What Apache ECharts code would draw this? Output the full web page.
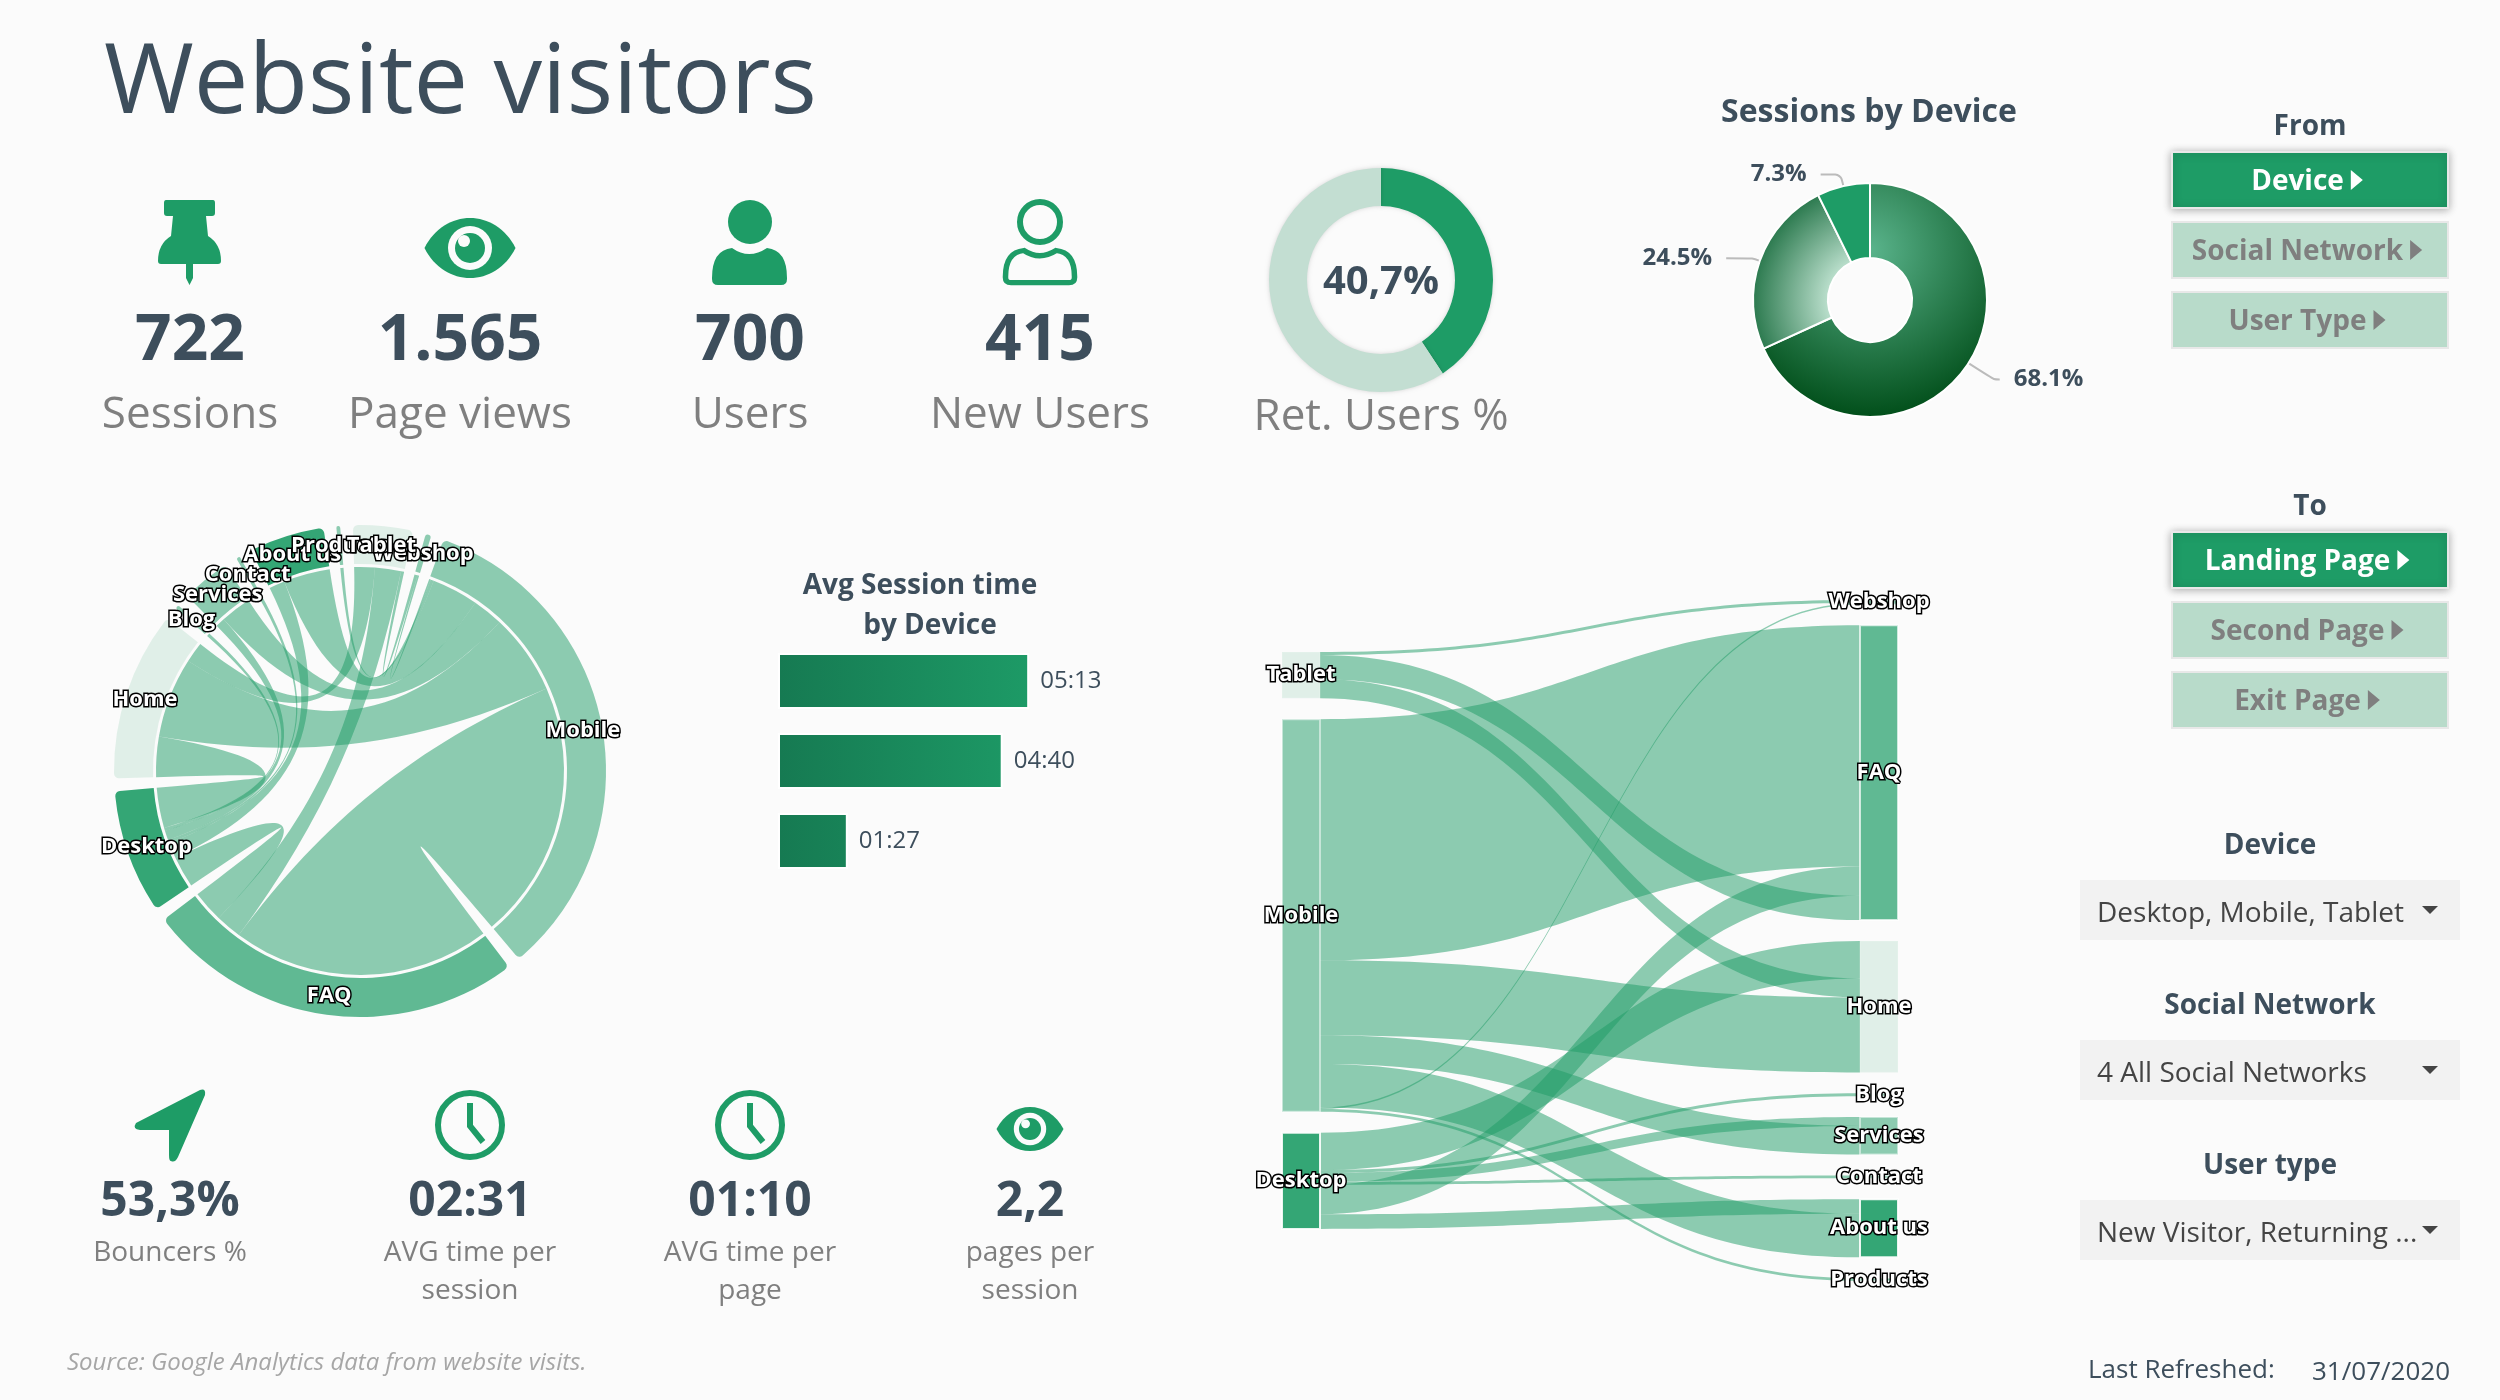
<!DOCTYPE html>
<html>
<head>
<meta charset="utf-8">
<title>Website visitors</title>
<script src="https://cdn.jsdelivr.net/npm/echarts@6/dist/echarts.min.js"></script>
<style>
html,body{margin:0;padding:0;background:#fbfbfb;}
#main{width:2500px;height:1400px;}
</style>
</head>
<body>
<div id="main"></div>
<script type="text/javascript">
// values
var topKpiValues = ['722', '1.565', '700', '415'];
var topKpiLabels = ['Sessions', 'Page views', 'Users', 'New Users'];
var bottomKpiValues = ['53,3%', '02:31', '01:10', '2,2'];
var bottomKpiLabels = [['Bouncers %'], ['AVG time per', 'session'], ['AVG time per', 'page'], ['pages per', 'session']];
var retUsersPct = [40.7, 59.3];
var retUsersText = '40,7%';
var deviceNames = ['Mobile', 'Desktop', 'Tablet'];
var devicePct = [68.1, 24.5, 7.3];
var avgSessionSeconds = [313, 280, 87];
var fromButtons = ['Device', 'Social Network', 'User Type'];
var toButtons = ['Landing Page', 'Second Page', 'Exit Page'];
var filterNames = ['Device', 'Social Network', 'User type'];
var filterValues = ['Desktop, Mobile, Tablet', '4 All Social Networks', 'New Visitor, Returning ...'];

var sankeyNames = ['Tablet', 'Mobile', 'Desktop', 'Webshop', 'FAQ', 'Home', 'Blog', 'Services', 'Contact', 'About us', 'Products'];
var chordNames = ['Webshop', 'Mobile', 'FAQ', 'Desktop', 'Home', 'Blog', 'Services', 'Contact', 'About us', 'Products', 'Tablet'];
// the order of this list is the order the ribbons stack in on each node
var flowSource = ['Tablet', 'Mobile', 'Desktop', 'Desktop', 'Desktop', 'Desktop', 'Desktop', 'Tablet', 'Tablet', 'Mobile', 'Mobile', 'Desktop', 'Mobile', 'Mobile', 'Mobile'];
var flowTarget = ['Webshop', 'FAQ', 'Home', 'Blog', 'Services', 'Contact', 'FAQ', 'FAQ', 'Home', 'Home', 'Services', 'About us', 'About us', 'Webshop', 'Products'];
var flowValue = [4, 328, 51, 4, 12, 4, 40, 33, 26, 102, 39, 20, 59, 2, 4];

var FONT = '"Open Sans","Noto Sans",sans-serif';
var DARK = '#3d4e5c', GREY = '#7f7f7f', GREEN = '#1e9c66';
var nodeOpacity = {Tablet: 0.12, Home: 0.12, Mobile: 0.5, Services: 0.5, FAQ: 0.7, Desktop: 0.9, 'About us': 0.9, Webshop: 0.5, Blog: 0.5, Contact: 0.5, Products: 0.5};

// icon outlines, drawn in pixel units around their own origin
echarts.graphic.registerShape('iconPin', echarts.graphic.extendPath('M8 0H55Q57 0 57 3V13Q57 16 54 16H48L50 36Q63 44 63 61Q63 64 60 64H35V78L31.5 85L28 78V64H3Q0 64 0 61Q0 44 13 36L15 16H9Q6 16 6 13V3Q6 0 8 0Z'));
echarts.graphic.registerShape('iconEye', echarts.graphic.extendPath('M0 30C20 -10 71 -10 91 30C71 70 20 70 0 30Z'));
echarts.graphic.registerShape('iconBody', echarts.graphic.extendPath('M20 0Q37 12 55 0Q75 2 75 30V31Q75 37 69 37H6Q0 37 0 31V30Q0 2 20 0Z'));
echarts.graphic.registerShape('iconArrow', echarts.graphic.extendPath('M66 1Q72 -1 71 6L44 68Q41 74 37 72Q35 72 35 66V41H6Q-2 40 2 34Z'));

var flowLinks = flowValue.map(function (v, i) {
    return {source: flowSource[i], target: flowTarget[i], value: v};
});

function nodeData(names) {
    return names.map(function (n) {
        return {name: n, itemStyle: {color: GREEN, opacity: nodeOpacity[n]}};
    });
}

function mmss(sec) {
    var m = Math.floor(sec / 60), s = sec % 60;
    return (m < 10 ? '0' : '') + m + ':' + (s < 10 ? '0' : '') + s;
}

function txt(x, y, text, size, color, weight, align, extra) {
    var style = {
        text: text, fill: color, fontSize: size, fontWeight: weight || 'normal', fontFamily: FONT,
        align: align || 'center', verticalAlign: 'middle', textAlign: align || 'center', textVerticalAlign: 'middle'
    };
    if (extra) { for (var k in extra) style[k] = extra[k]; }
    return {type: 'text', x: x, y: y, silent: true, style: style};
}

function icon(type, x, y, sx, sy, style) {
    return {type: type, x: x, y: y, scaleX: sx, scaleY: sy, silent: true, shape: {}, style: style || {fill: GREEN}};
}

function eye(cx, cy, w) {
    var k = w / 91;
    return [
        icon('iconEye', cx - 45.5 * k, cy - 30 * k, k, k),
        {type: 'circle', silent: true, shape: {cx: cx, cy: cy, r: 22 * k}, style: {fill: '#fbfbfb'}},
        {type: 'circle', silent: true, shape: {cx: cx, cy: cy, r: 15 * k}, style: {fill: GREEN}},
        {type: 'circle', silent: true, shape: {cx: cx - 6 * k, cy: cy - 7 * k, r: 6 * k}, style: {fill: '#fbfbfb'}}
    ];
}

function clock(cx, cy) {
    return [
        {type: 'circle', silent: true, shape: {cx: cx, cy: cy, r: 32}, style: {fill: 'none', stroke: GREEN, lineWidth: 6}},
        {type: 'polyline', silent: true, shape: {points: [[cx, cy - 22], [cx, cy + 1], [cx + 13, cy + 17]]}, style: {fill: 'none', stroke: GREEN, lineWidth: 6}}
    ];
}

var measure = document.createElement('canvas').getContext('2d');

function button(x, y, w, h, text, active) {
    var color = active ? '#ffffff' : '#7f7f7f';
    measure.font = 'bold 28px ' + FONT;
    var tw = measure.measureText(text).width;
    var left = x + (w - tw - 19) / 2 - 3, cy = y + h / 2;
    return [
        {type: 'rect', silent: true, shape: {x: x, y: y, width: w, height: h}, style: {
            fill: active ? GREEN : '#b8dbca', stroke: '#e8e8e8', lineWidth: 2,
            shadowBlur: active ? 8 : 0, shadowColor: 'rgba(0,0,0,0.3)', shadowOffsetY: active ? 1 : 0
        }},
        txt(left, cy + 2, text, 28, color, 'bold', 'left'),
        {type: 'polygon', silent: true, shape: {points: [[left + tw + 7, cy - 10], [left + tw + 19, cy], [left + tw + 7, cy + 10]]}, style: {fill: color}}
    ];
}

var elems = [];
elems.push(txt(104, 85, 'Website visitors', 97.3, DARK, 'normal', 'left'));

// top row of figures
var topX = [190, 460, 750, 1040];
topKpiValues.forEach(function (v, i) {
    elems.push(txt(topX[i], 342, v, 64, DARK, 'bold'));
    elems.push(txt(topX[i], 415, topKpiLabels[i], 44, GREY));
});
elems.push(icon('iconPin', 158, 200, 1, 1));
elems = elems.concat(eye(470, 248, 91));
elems.push({type: 'circle', silent: true, shape: {cx: 750, cy: 222, r: 22}, style: {fill: GREEN}});
elems.push(icon('iconBody', 712, 248, 1, 1));
elems.push({type: 'circle', silent: true, shape: {cx: 1040, cy: 222, r: 20}, style: {fill: 'none', stroke: GREEN, lineWidth: 6}});
elems.push(icon('iconBody', 1005.5, 250.5, 0.92, 0.87, {fill: 'none', stroke: GREEN, lineWidth: 6}));

// retention donut text
elems.push(txt(1381, 283, retUsersText, 40, DARK, 'bold'));
elems.push(txt(1381, 417, 'Ret. Users %', 44, GREY));
elems.push(txt(1869, 113, 'Sessions by Device', 32, DARK, 'bold'));
elems.push(txt(920, 586, 'Avg Session time', 28, DARK, 'bold'));
elems.push(txt(930, 626, 'by Device', 28, DARK, 'bold'));

// bottom row of figures
var botX = [170, 470, 750, 1030];
bottomKpiValues.forEach(function (v, i) {
    elems.push(txt(botX[i], 1202, v, 48, DARK, 'bold'));
    bottomKpiLabels[i].forEach(function (line, j) {
        elems.push(txt(botX[i], 1253 + j * 38, line, 28, GREY));
    });
});
elems.push(icon('iconArrow', 134, 1089, 1, 1));
elems = elems.concat(clock(470, 1125)).concat(clock(750, 1125)).concat(eye(1030, 1129, 67));

// buttons
elems.push(txt(2310, 127, 'From', 28, DARK, 'bold'));
elems.push(txt(2310, 507, 'To', 28, DARK, 'bold'));
fromButtons.forEach(function (b, i) {
    elems = elems.concat(button(2172, 152 + i * 70, 276, 56, b, i === 0));
});
toButtons.forEach(function (b, i) {
    elems = elems.concat(button(2172, 532 + i * 70, 276, 56, b, i === 0));
});

// filter boxes
filterNames.forEach(function (n, i) {
    var y = 880 + i * 160;
    elems.push(txt(2270, y - 34, n, 28, DARK, 'bold'));
    elems.push({type: 'rect', silent: true, shape: {x: 2080, y: y, width: 380, height: 60}, style: {fill: '#f2f2f2'}});
    elems.push(txt(2097, y + 34, filterValues[i], 28, '#444444', 'normal', 'left'));
    elems.push({type: 'polygon', silent: true, shape: {points: [[2422, y + 26], [2438, y + 26], [2430, y + 34]]}, style: {fill: '#444444'}});
});

elems.push(txt(67, 1363, 'Source: Google Analytics data from website visits.', 24, '#a6a6a6', 'normal', 'left', {fontStyle: 'italic'}));
elems.push(txt(2088, 1371, 'Last Refreshed:', 26, DARK, 'normal', 'left'));
elems.push(txt(2312, 1373, '31/07/2020', 26, DARK, 'normal', 'left'));

// ECharts sorts ribbons by node position; stack them in flow list order and centre the columns instead
echarts.registerLayout(echarts.PRIORITY.VISUAL.LAYOUT + 1, function (ecModel) {
    ecModel.eachSeriesByType('sankey', function (series) {
        var graph = series.getGraph(), columns = {};
        graph.nodes.forEach(function (node) {
            var l = node.getLayout();
            (columns[l.x] = columns[l.x] || []).push(node);
        });
        var rect = series.layoutInfo;
        Object.keys(columns).forEach(function (key) {
            var col = columns[key];
            var first = col[0].getLayout(), last = col[col.length - 1].getLayout();
            var shift = (rect.height - (last.y + last.dy - first.y)) / 2 - first.y;
            col.forEach(function (node) {
                node.setLayout({y: node.getLayout().y + shift}, true);
            });
        });
        var outUsed = {}, inUsed = {};
        graph.edges.forEach(function (edge) {
            var a = edge.node1.id, b = edge.node2.id, dy = edge.getLayout().dy;
            outUsed[a] = outUsed[a] || 0;
            inUsed[b] = inUsed[b] || 0;
            edge.setLayout({sy: outUsed[a], ty: inUsed[b]}, true);
            outUsed[a] += dy;
            inUsed[b] += dy;
        });
    });
});

// chord: along each node, take the partner nearest counter-clockwise first so ribbons do not twist,
// and stop the ribbons just short of the ring
echarts.registerLayout(echarts.PRIORITY.VISUAL.POST_CHART_LAYOUT + 1, function (ecModel) {
    ecModel.eachSeriesByType('chord', function (series) {
        var graph = series.getData().graph, n = graph.nodes.length;
        graph.nodes.forEach(function (node) {
            var cursor = node.getLayout().startAngle, r = node.getLayout().r0 - 3;
            var ccw = function (edge) {
                var other = edge.node1 === node ? edge.node2 : edge.node1;
                return (node.dataIndex - other.dataIndex + n) % n;
            };
            graph.edges.filter(function (edge) {
                return edge.node1 === node || edge.node2 === node;
            }).sort(function (a, b) {
                return ccw(a) - ccw(b);
            }).forEach(function (edge) {
                var l = edge.getLayout(), isSource = edge.node1 === node;
                var span = isSource ? l.sEndAngle - l.sStartAngle : l.tEndAngle - l.tStartAngle;
                var end = cursor + span;
                var p1 = [l.cx + r * Math.cos(cursor), l.cy + r * Math.sin(cursor)];
                var p2 = [l.cx + r * Math.cos(end), l.cy + r * Math.sin(end)];
                edge.setLayout(isSource
                    ? {r: r, sStartAngle: cursor, sEndAngle: end, s1: p1, s2: p2}
                    : {r: r, tStartAngle: cursor, tEndAngle: end, t1: p1, t2: p2}, true);
                cursor = end;
            });
        });
    });
});

var nodeLabel = {
    show: true, color: '#ffffff', opacity: 1, fontFamily: FONT, fontWeight: 'bold', fontSize: 22,
    textBorderColor: '#000000', textBorderWidth: 3
};

var sliceStyles = [
    {x: 1870, y: 250, r: 170, from: 0, c0: '#5ab48c', c1: '#004d18', len: 30, len2: 6},
    {x: 1870, y: 300, r: 117, from: 0.36, c0: '#b9decb', c1: '#2c7a4f', len: 8, len2: 26},
    {x: 1870, y: 300, r: 117, from: 0, c0: GREEN, c1: GREEN, len: 12, len2: 20}
];

var option = {
    backgroundColor: '#fbfbfb',
    animation: false,
    grid: {left: 778, top: 641, width: 321, height: 240},
    xAxis: {type: 'value', min: 0, max: 400, show: false},
    yAxis: {type: 'category', inverse: true, show: false, data: deviceNames},
    graphic: {elements: elems},
    series: [
        {
            type: 'pie', silent: true, center: [1381, 280], radius: [74, 112], startAngle: 90, label: {show: false},
            itemStyle: {shadowBlur: 4, shadowColor: 'rgba(0,0,0,0.15)'},
            data: [
                {name: 'Returning', value: retUsersPct[0], itemStyle: {color: GREEN}},
                {name: 'New', value: retUsersPct[1], itemStyle: {color: '#c3ded2'}}
            ]
        },
        {
            type: 'pie', silent: true, center: [1870, 300], radius: [42, 117], startAngle: 90,
            itemStyle: {borderColor: '#ffffff', borderWidth: 2},
            label: {formatter: '{c}%', color: DARK, fontFamily: FONT, fontWeight: 'bold', fontSize: 24, distanceToLabelLine: 14},
            labelLine: {smooth: true, lineStyle: {color: '#bbbbbb', width: 2}},
            data: deviceNames.map(function (n, i) {
                var c = sliceStyles[i];
                return {
                    name: n, value: devicePct[i],
                    labelLine: {length: c.len, length2: c.len2},
                    itemStyle: {color: {
                        type: 'radial', x: c.x, y: c.y, r: c.r, global: true,
                        colorStops: [{offset: c.from, color: c.c0}, {offset: 1, color: c.c1}]
                    }}
                };
            })
        },
        {
            type: 'bar', silent: true, barWidth: 56, data: avgSessionSeconds,
            itemStyle: {borderColor: '#ffffff', borderWidth: 2, color: {
                type: 'linear', x: 780, y: 0, x2: 1028, y2: 0, global: true,
                colorStops: [{offset: 0, color: '#167a52'}, {offset: 1, color: '#1d9a66'}]
            }},
            label: {show: true, position: 'right', distance: 11, color: DARK, fontFamily: FONT, fontSize: 24,
                formatter: function (p) { return mmss(p.value); }}
        },
        {
            type: 'chord', silent: true, center: [360, 771], radius: [207, 246], startAngle: 74.5, padAngle: 3, clockwise: true,
            data: nodeData(chordNames), links: flowLinks,
            lineStyle: {color: 'source', opacity: 0.5},
            label: Object.assign({position: 'inside', offset: [0, 3]}, nodeLabel)
        },
        {
            type: 'sankey', silent: true, left: 1282, top: 600, width: 616, height: 681,
            nodeWidth: 38, nodeGap: 20.8, layoutIterations: 0,
            data: nodeData(sankeyNames), links: flowLinks,
            itemStyle: {borderColor: '#ffffff', borderWidth: 2},
            lineStyle: {color: GREEN, opacity: 0.5, curveness: 0.5},
            label: Object.assign({position: 'inside'}, nodeLabel)
        }
    ]
};

var chart = echarts.init(document.getElementById('main'));
chart.setOption(option);
</script>
</body>
</html>
